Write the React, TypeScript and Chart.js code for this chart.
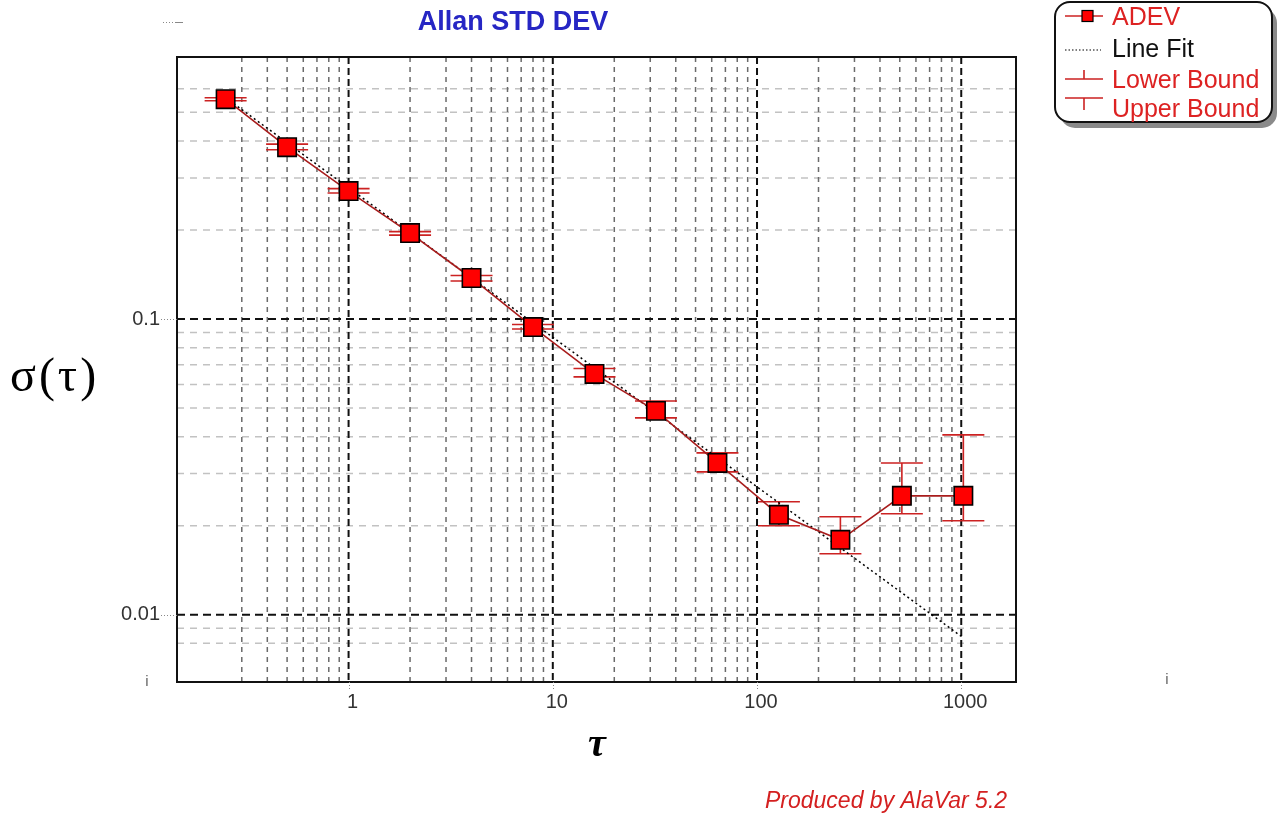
import React, { useEffect, useRef } from 'react';
import { Chart, registerables } from 'chart.js';
Chart.register(...registerables);

const W = 1282;
const H = 817;

// ---- data ----
const tauValues = [0.25, 0.5, 1, 2, 4, 8, 16, 32, 64, 128, 256, 512, 1024];
const adevValues = [0.5535, 0.381, 0.2707, 0.1952, 0.1376, 0.0939, 0.0652, 0.0489, 0.0326, 0.02177, 0.01792, 0.02523, 0.02523];
const upperBound = [0.5601, 0.3903, 0.276, 0.1975, 0.1403, 0.0958, 0.068, 0.0528, 0.03526, 0.02409, 0.02144, 0.0326, 0.04056];
const lowerBound = [0.5472, 0.3737, 0.2666, 0.1922, 0.1344, 0.0925, 0.0637, 0.0463, 0.0304, 0.02, 0.01607, 0.02194, 0.02078];
const fitTau = [0.25, 1024];
const fitValues = [0.56, 0.00835];

// ---- ticks ----
const xMajorTicks = [1, 10, 100, 1000];
const xMajorLabels = ['1', '10', '100', '1000'];
const xMinorTicks = [0.3, 0.4, 0.5, 0.6, 0.7, 0.8, 0.9, 2, 3, 4, 5, 6, 7, 8, 9, 20, 30, 40, 50, 60, 70, 80, 90, 200, 300, 400, 500, 600, 700, 800, 900];
const yMajorTicks = [0.01, 0.1];
const yMajorLabels = ['0.01', '0.1'];
const yMinorTicks = [0.008, 0.009, 0.02, 0.03, 0.04, 0.05, 0.06, 0.07, 0.08, 0.09, 0.2, 0.3, 0.4, 0.5, 0.6];

const X_MIN = 0.1445;
const X_MAX = 1854;
const Y_MIN = 0.005922;
const Y_MAX = 0.769;

const SANS = '"Liberation Sans", Arial, sans-serif';
const SERIF = '"Liberation Serif", "Times New Roman", serif';

function labelFor(value: number, ticks: number[], labels: string[]) {
  for (let i = 0; i < ticks.length; i++) {
    if (Math.abs(ticks[i] - value) / ticks[i] < 1e-6) return labels[i];
  }
  return '';
}

function roundRect(ctx: CanvasRenderingContext2D, x: number, y: number, w: number, h: number, r: number) {
  ctx.beginPath();
  ctx.moveTo(x + r, y);
  ctx.lineTo(x + w - r, y);
  ctx.arcTo(x + w, y, x + w, y + r, r);
  ctx.lineTo(x + w, y + h - r);
  ctx.arcTo(x + w, y + h, x + w - r, y + h, r);
  ctx.lineTo(x + r, y + h);
  ctx.arcTo(x, y + h, x, y + h - r, r);
  ctx.lineTo(x, y + r);
  ctx.arcTo(x, y, x + r, y, r);
  ctx.closePath();
}

const decorPlugin = {
  id: 'alavarDecor',
  beforeDraw(chart: any) {
    const ctx = chart.ctx;
    ctx.save();
    ctx.fillStyle = '#ffffff';
    ctx.fillRect(0, 0, chart.width, chart.height);
    ctx.restore();
  },
  beforeDatasetsDraw(chart: any) {
    const { ctx, chartArea: a, scales } = chart;
    const x = scales.x;
    const y = scales.y;
    ctx.save();
    ctx.beginPath();
    ctx.rect(a.left, a.top, a.right - a.left, a.bottom - a.top);
    ctx.clip();
    // minor horizontal
    ctx.setLineDash([7, 6]);
    ctx.strokeStyle = '#c2c2c2';
    ctx.lineWidth = 1.5;
    yMinorTicks.forEach((v) => {
      const py = y.getPixelForValue(v);
      ctx.beginPath();
      ctx.moveTo(a.left, py);
      ctx.lineTo(a.right, py);
      ctx.stroke();
    });
    // minor vertical
    ctx.setLineDash([5, 5]);
    ctx.strokeStyle = '#6a6a6a';
    ctx.lineWidth = 1.5;
    xMinorTicks.forEach((v) => {
      const px = x.getPixelForValue(v);
      ctx.beginPath();
      ctx.moveTo(px, a.top);
      ctx.lineTo(px, a.bottom);
      ctx.stroke();
    });
    // major horizontal
    ctx.setLineDash([8, 5]);
    ctx.strokeStyle = '#111111';
    ctx.lineWidth = 2;
    yMajorTicks.forEach((v) => {
      const py = y.getPixelForValue(v);
      ctx.beginPath();
      ctx.moveTo(a.left, py);
      ctx.lineTo(a.right, py);
      ctx.stroke();
    });
    // major vertical
    ctx.setLineDash([7, 4]);
    xMajorTicks.forEach((v) => {
      const px = x.getPixelForValue(v);
      ctx.beginPath();
      ctx.moveTo(px, a.top);
      ctx.lineTo(px, a.bottom);
      ctx.stroke();
    });
    ctx.restore();

    // error bars
    ctx.save();
    ctx.strokeStyle = '#cc2222';
    ctx.lineWidth = 1.6;
    ctx.setLineDash([]);
    for (let i = 0; i < tauValues.length; i++) {
      const px = x.getPixelForValue(tauValues[i]);
      const pu = y.getPixelForValue(upperBound[i]);
      const pl = y.getPixelForValue(lowerBound[i]);
      ctx.beginPath();
      ctx.moveTo(px, pu);
      ctx.lineTo(px, pl);
      ctx.moveTo(px - 21, pu);
      ctx.lineTo(px + 21, pu);
      ctx.moveTo(px - 21, pl);
      ctx.lineTo(px + 21, pl);
      ctx.stroke();
    }
    ctx.restore();
  },
  afterDraw(chart: any) {
    const { ctx, chartArea: a, scales } = chart;
    const x = scales.x;
    const y = scales.y;
    ctx.save();
    // plot border
    ctx.setLineDash([]);
    ctx.strokeStyle = '#111111';
    ctx.lineWidth = 2;
    ctx.strokeRect(a.left, a.top, a.right - a.left, a.bottom - a.top);

    // dotted tick marks
    ctx.strokeStyle = '#888888';
    ctx.lineWidth = 1;
    ctx.setLineDash([1, 2]);
    yMajorTicks.forEach((v) => {
      const py = Math.round(y.getPixelForValue(v)) + 0.5;
      ctx.beginPath();
      ctx.moveTo(a.left - 16, py);
      ctx.lineTo(a.left, py);
      ctx.stroke();
    });
    xMajorTicks.forEach((v) => {
      const px = Math.round(x.getPixelForValue(v)) + 0.5;
      ctx.beginPath();
      ctx.moveTo(px, a.bottom);
      ctx.lineTo(px, a.bottom + 7);
      ctx.stroke();
    });

    // top-left stray mark
    ctx.beginPath();
    ctx.moveTo(163, 22.5);
    ctx.lineTo(175, 22.5);
    ctx.stroke();
    ctx.setLineDash([]);
    ctx.beginPath();
    ctx.moveTo(175, 22.5);
    ctx.lineTo(183, 22.5);
    ctx.stroke();

    // title
    ctx.fillStyle = '#2626c4';
    ctx.font = 'bold 27px ' + SANS;
    ctx.textAlign = 'center';
    ctx.textBaseline = 'middle';
    ctx.fillText('Allan STD DEV', 513, 23);

    // axis titles
    ctx.fillStyle = '#000000';
    ctx.font = '48px ' + SERIF;
    ctx.textAlign = 'left';
    (ctx as any).letterSpacing = '3px';
    ctx.fillText('σ(τ)', 10, 378);
    (ctx as any).letterSpacing = '0px';
    ctx.font = 'italic bold 40px ' + SERIF;
    ctx.textAlign = 'center';
    ctx.fillText('τ', 597, 746);

    // stray "i" labels
    ctx.fillStyle = '#666666';
    ctx.font = '15px ' + SANS;
    ctx.fillText('i', 147, 682);
    ctx.fillText('i', 1167, 680);

    // footer
    ctx.fillStyle = '#d42020';
    ctx.font = 'italic 23px ' + SANS;
    ctx.textAlign = 'left';
    ctx.fillText('Produced by AlaVar 5.2', 765, 802);

    // legend box
    ctx.fillStyle = '#8a8a8a';
    roundRect(ctx, 1060, 8, 217, 120, 15);
    ctx.fill();
    ctx.fillStyle = '#ffffff';
    roundRect(ctx, 1055, 2, 217, 120, 15);
    ctx.fill();
    ctx.strokeStyle = '#111111';
    ctx.lineWidth = 2;
    ctx.stroke();

    // ADEV entry
    ctx.strokeStyle = '#cc2222';
    ctx.lineWidth = 1.6;
    ctx.beginPath();
    ctx.moveTo(1065, 16);
    ctx.lineTo(1103, 16);
    ctx.stroke();
    ctx.fillStyle = '#ff0000';
    ctx.fillRect(1082, 10.5, 11, 11);
    ctx.strokeStyle = '#000000';
    ctx.lineWidth = 1.2;
    ctx.strokeRect(1082, 10.5, 11, 11);

    // Line fit entry
    ctx.strokeStyle = '#000000';
    ctx.lineWidth = 1.2;
    ctx.setLineDash([1.5, 2]);
    ctx.beginPath();
    ctx.moveTo(1065, 50);
    ctx.lineTo(1101, 50);
    ctx.stroke();
    ctx.setLineDash([]);

    // bounds entry
    ctx.strokeStyle = '#cc2222';
    ctx.lineWidth = 1.6;
    ctx.beginPath();
    ctx.moveTo(1084, 70);
    ctx.lineTo(1084, 79);
    ctx.moveTo(1065, 79);
    ctx.lineTo(1103, 79);
    ctx.moveTo(1065, 98);
    ctx.lineTo(1103, 98);
    ctx.moveTo(1084, 98);
    ctx.lineTo(1084, 110);
    ctx.stroke();

    ctx.font = '25px ' + SANS;
    ctx.textAlign = 'left';
    ctx.textBaseline = 'alphabetic';
    ctx.fillStyle = '#dd2222';
    ctx.fillText('ADEV', 1112, 25);
    ctx.fillStyle = '#111111';
    ctx.fillText('Line Fit', 1112, 57);
    ctx.fillStyle = '#dd2222';
    ctx.fillText('Lower Bound', 1112, 88);
    ctx.fillText('Upper Bound', 1112, 117);
    ctx.restore();
  },
};

export default function App() {
  const canvasRef = useRef<HTMLCanvasElement | null>(null);

  useEffect(() => {
    document.body.style.margin = '0';
    document.body.style.overflow = 'hidden';
    const canvas = canvasRef.current;
    if (!canvas) return;

    const adevData = tauValues.map((t, i) => ({ x: t, y: adevValues[i] }));
    const fitData = fitTau.map((t, i) => ({ x: t, y: fitValues[i] }));
    const xAll = [...xMinorTicks, ...xMajorTicks].sort((p, q) => p - q);
    const yAll = [...yMinorTicks, ...yMajorTicks].sort((p, q) => p - q);

    const chart = new Chart(canvas, {
      type: 'line',
      data: {
        datasets: [
          {
            label: 'ADEV',
            data: adevData,
            order: 0,
            borderColor: '#a81c1c',
            borderWidth: 1.6,
            pointStyle: 'rect',
            pointRadius: 13,
            pointBackgroundColor: '#ff0000',
            pointBorderColor: '#000000',
            pointBorderWidth: 1.6,
            tension: 0,
          },
          {
            label: 'Line Fit',
            data: fitData,
            order: 1,
            borderColor: '#000000',
            borderWidth: 1.5,
            borderDash: [2, 3],
            pointRadius: 0,
            tension: 0,
          },
        ],
      },
      options: {
        animation: false,
        responsive: false,
        devicePixelRatio: 1,
        events: [],
        layout: { padding: { left: 0, top: 57, right: W - 1016, bottom: 0 } },
        plugins: {
          legend: { display: false },
          title: { display: false },
          tooltip: { enabled: false },
        },
        scales: {
          x: {
            type: 'logarithmic',
            position: 'bottom',
            min: X_MIN,
            max: X_MAX,
            grid: { display: false, drawTicks: false },
            border: { display: false },
            afterBuildTicks: (scale: any) => {
              scale.ticks = xAll.map((v) => ({ value: v }));
            },
            afterFit: (scale: any) => {
              scale.height = H - 682;
            },
            ticks: {
              autoSkip: false,
              maxRotation: 0,
              padding: 8,
              labelOffset: 4,
              color: '#333333',
              font: { family: SANS, size: 20 },
              callback: (value: any) => labelFor(Number(value), xMajorTicks, xMajorLabels),
            },
          },
          y: {
            type: 'logarithmic',
            position: 'left',
            min: Y_MIN,
            max: Y_MAX,
            grid: { display: false, drawTicks: false },
            border: { display: false },
            afterBuildTicks: (scale: any) => {
              scale.ticks = yAll.map((v) => ({ value: v }));
            },
            afterFit: (scale: any) => {
              scale.width = 177;
            },
            ticks: {
              autoSkip: false,
              padding: 17,
              color: '#333333',
              font: { family: SANS, size: 20 },
              callback: (value: any) => labelFor(Number(value), yMajorTicks, yMajorLabels),
            },
          },
        },
      },
      plugins: [decorPlugin],
    });

    return () => {
      chart.destroy();
    };
  }, []);

  return (
    <div style={{ width: W, height: H, overflow: 'hidden' }}>
      <canvas ref={canvasRef} width={W} height={H} style={{ display: 'block', width: W, height: H }} />
    </div>
  );
}
